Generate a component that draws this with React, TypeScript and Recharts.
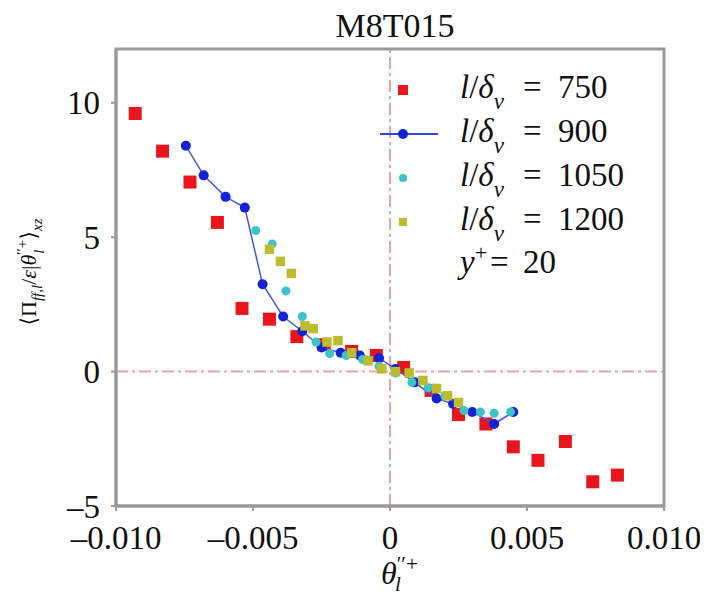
import { ScatterChart, Scatter, XAxis, YAxis, ReferenceLine } from 'recharts';

// theta_l''+ positions and <Pi/eps|theta> values, one pair of arrays per l/delta_v
const red750X = [-0.0093, -0.0083, -0.0073, -0.0063, -0.0054, -0.0044, -0.0034, -0.0024, -0.0014, -0.0005, 0.0005, 0.0015, 0.0025, 0.0035, 0.0045, 0.0054, 0.0064, 0.0074, 0.0083];
const red750Y = [9.6, 8.2, 7.05, 5.55, 2.35, 1.95, 1.3, 1.0, 0.75, 0.6, 0.15, -0.7, -1.6, -1.95, -2.8, -3.3, -2.6, -4.1, -3.85];

const blue900X = [-0.00745, -0.0068, -0.006, -0.0053, -0.00465, -0.0039, -0.0032, -0.0025, -0.0018, -0.0011, -0.0004, 0.0002, 0.0009, 0.0017, 0.0023, 0.003, 0.0038, 0.0045];
const blue900Y = [8.4, 7.3, 6.5, 6.1, 3.25, 2.05, 1.5, 0.9, 0.7, 0.6, 0.5, 0.1, -0.4, -1.0, -1.2, -1.5, -1.95, -1.5];

const cyan1050X = [-0.0049, -0.0043, -0.0038, -0.0032, -0.0027, -0.0022, -0.0016, -0.001, -0.0004, 0.0002, 0.0008, 0.0014, 0.002, 0.0027, 0.0033, 0.0038, 0.0044];
const cyan1050Y = [5.25, 4.75, 3.0, 2.05, 1.1, 0.67, 0.6, 0.45, 0.2, -0.05, -0.4, -0.6, -0.9, -1.45, -1.5, -1.55, -1.5];

const yellow1200X = [-0.0044, -0.004, -0.0036, -0.0031, -0.0028, -0.0023, -0.0019, -0.0014, -0.0008, -0.0003, 0.0002, 0.0007, 0.0012, 0.0017, 0.0021, 0.0025];
const yellow1200Y = [4.55, 4.1, 3.65, 1.7, 1.6, 1.1, 1.15, 0.7, 0.4, 0.1, 0.0, -0.05, -0.33, -0.63, -0.9, -1.15];

const xTicks = [-0.01, -0.005, 0, 0.005, 0.01];
const yTicks = [-5, 0, 5, 10];

const legendRows = [
  { value: '750', color: '#e8161c', kind: 'square' },
  { value: '900', color: '#1222d4', kind: 'line' },
  { value: '1050', color: '#3cc3ca', kind: 'dot' },
  { value: '1200', color: '#bcbc2e', kind: 'small' },
];

const pts = (xs: number[], ys: number[]) => xs.map((x, i) => ({ x, y: ys[i] }));

const FONT = "'Liberation Serif', 'Times New Roman', Tinos, 'DejaVu Serif', serif";
const GRAY = '#9a9a9a';

const square = (size: number, color: string) => (p: any) => (
  <rect x={p.cx - size / 2} y={p.cy - size / 2} width={size} height={size} fill={color} />
);
const circle = (r: number, color: string) => (p: any) => <circle cx={p.cx} cy={p.cy} r={r} fill={color} />;

const fmtX = (v: number) => (v === 0 ? '0' : (v < 0 ? '–' : '') + Math.abs(v).toFixed(3));
const fmtY = (v: number) => (v < 0 ? '–' + Math.abs(v) : String(v));

export default function App() {
  const W = 700;
  const H = 587;
  return (
    <div className="fig" style={{ position: 'relative', width: W, height: H, fontFamily: FONT }}>
      <style>{`.fig svg text { font-family: ${FONT}; }`}</style>
      <ScatterChart width={W} height={H} margin={{ top: 41, right: 44, bottom: 39, left: 48 }}>
        <XAxis
          type="number"
          dataKey="x"
          domain={[-0.01, 0.01]}
          ticks={xTicks}
          tickFormatter={fmtX}
          height={50}
          axisLine={{ stroke: GRAY, strokeWidth: 3 }}
          tickLine={{ stroke: GRAY, strokeWidth: 2 }}
          tickSize={5}
          tickMargin={15}
          tick={{ fill: '#111', fontSize: 33 }}
        />
        <YAxis
          type="number"
          dataKey="y"
          domain={[-5, 12]}
          ticks={yTicks}
          tickFormatter={fmtY}
          width={60}
          axisLine={{ stroke: GRAY, strokeWidth: 3 }}
          tickLine={{ stroke: GRAY, strokeWidth: 2 }}
          tickSize={5}
          tickMargin={11}
          tick={{ fill: '#111', fontSize: 33 }}
        />
        <ReferenceLine x={0} stroke="#eaa4a6" strokeWidth={2} strokeDasharray="12 4 3 4" />
        <ReferenceLine y={0} stroke="#eaa4a6" strokeWidth={2} strokeDasharray="12 4 3 4" />
        <Scatter data={pts(red750X, red750Y)} shape={square(13, '#e8161c')} isAnimationActive={false} />
        <Scatter
          data={pts(blue900X, blue900Y)}
          shape={circle(5, '#1222d4')}
          line={{ stroke: '#4a58e0', strokeWidth: 1.5 }}
          lineType="joint"
          isAnimationActive={false}
        />
        <Scatter data={pts(cyan1050X, cyan1050Y)} shape={circle(4.5, '#3cc3ca')} isAnimationActive={false} />
        <Scatter data={pts(yellow1200X, yellow1200Y)} shape={square(9.5, '#bcbc2e')} isAnimationActive={false} />
      </ScatterChart>

      <svg width={W} height={H} style={{ position: 'absolute', left: 0, top: 0, pointerEvents: 'none' }}>
        <rect x={108} y={41} width={548} height={457} fill="none" stroke={GRAY} strokeWidth={3} />
        <text x={387} y={29} fontSize={34} textAnchor="middle" fill="#111">M8T015</text>

        {legendRows.map((r, i) => {
          const cy = 82 + i * 44;
          return (
            <g key={r.value}>
              {r.kind === 'square' && <rect x={390} y={cy - 5} width={10} height={10} fill={r.color} />}
              {r.kind === 'line' && (
                <>
                  <line x1={372} x2={430} y1={cy} y2={cy} stroke="#3444dc" strokeWidth={2} />
                  <circle cx={395} cy={cy} r={5} fill={r.color} />
                </>
              )}
              {r.kind === 'dot' && <circle cx={395} cy={cy} r={4} fill={r.color} />}
              {r.kind === 'small' && <rect x={391} y={cy - 4} width={8} height={8} fill={r.color} />}
              <text y={cy + 8} fontSize={33} fill="#111">
                <tspan x={452} fontStyle="italic">l</tspan>
                <tspan>/</tspan>
                <tspan fontStyle="italic">δ</tspan>
                <tspan fontStyle="italic" fontSize={23} dy={11}>v</tspan>
                <tspan x={515} dy={-11}>=</tspan>
                <tspan x={550}>{r.value}</tspan>
              </text>
            </g>
          );
        })}
        <text y={265} fontSize={33} fill="#111">
          <tspan x={452} fontStyle="italic">y</tspan>
          <tspan fontSize={22} dy={-13}>+</tspan>
          <tspan x={482} dy={13}>=</tspan>
          <tspan x={515}>20</tspan>
        </text>

        <text transform="translate(28 264) rotate(-90)" textAnchor="middle" fontSize={22} fill="#111">
          <tspan>⟨Π</tspan>
          <tspan fontSize={15} fontStyle="italic" dy={6}>ff,l</tspan>
          <tspan dy={-6}>/</tspan>
          <tspan fontStyle="italic">ε</tspan>
          <tspan>|</tspan>
          <tspan fontStyle="italic">θ</tspan>
          <tspan fontSize={15} dy={-9}>′′+</tspan>
          <tspan fontSize={15} fontStyle="italic" dx={-14} dy={17}>l</tspan>
          <tspan dx={10} dy={-8}>⟩</tspan>
          <tspan fontSize={15} fontStyle="italic" dy={6}>xz</tspan>
        </text>

        <text y={576} fontSize={32} fill="#111">
          <tspan x={373} fontStyle="italic">θ</tspan>
          <tspan fontSize={21} dy={-13}>′′+</tspan>
          <tspan x={387} fontSize={21} fontStyle="italic" dy={20}>l</tspan>
        </text>
      </svg>
    </div>
  );
}
